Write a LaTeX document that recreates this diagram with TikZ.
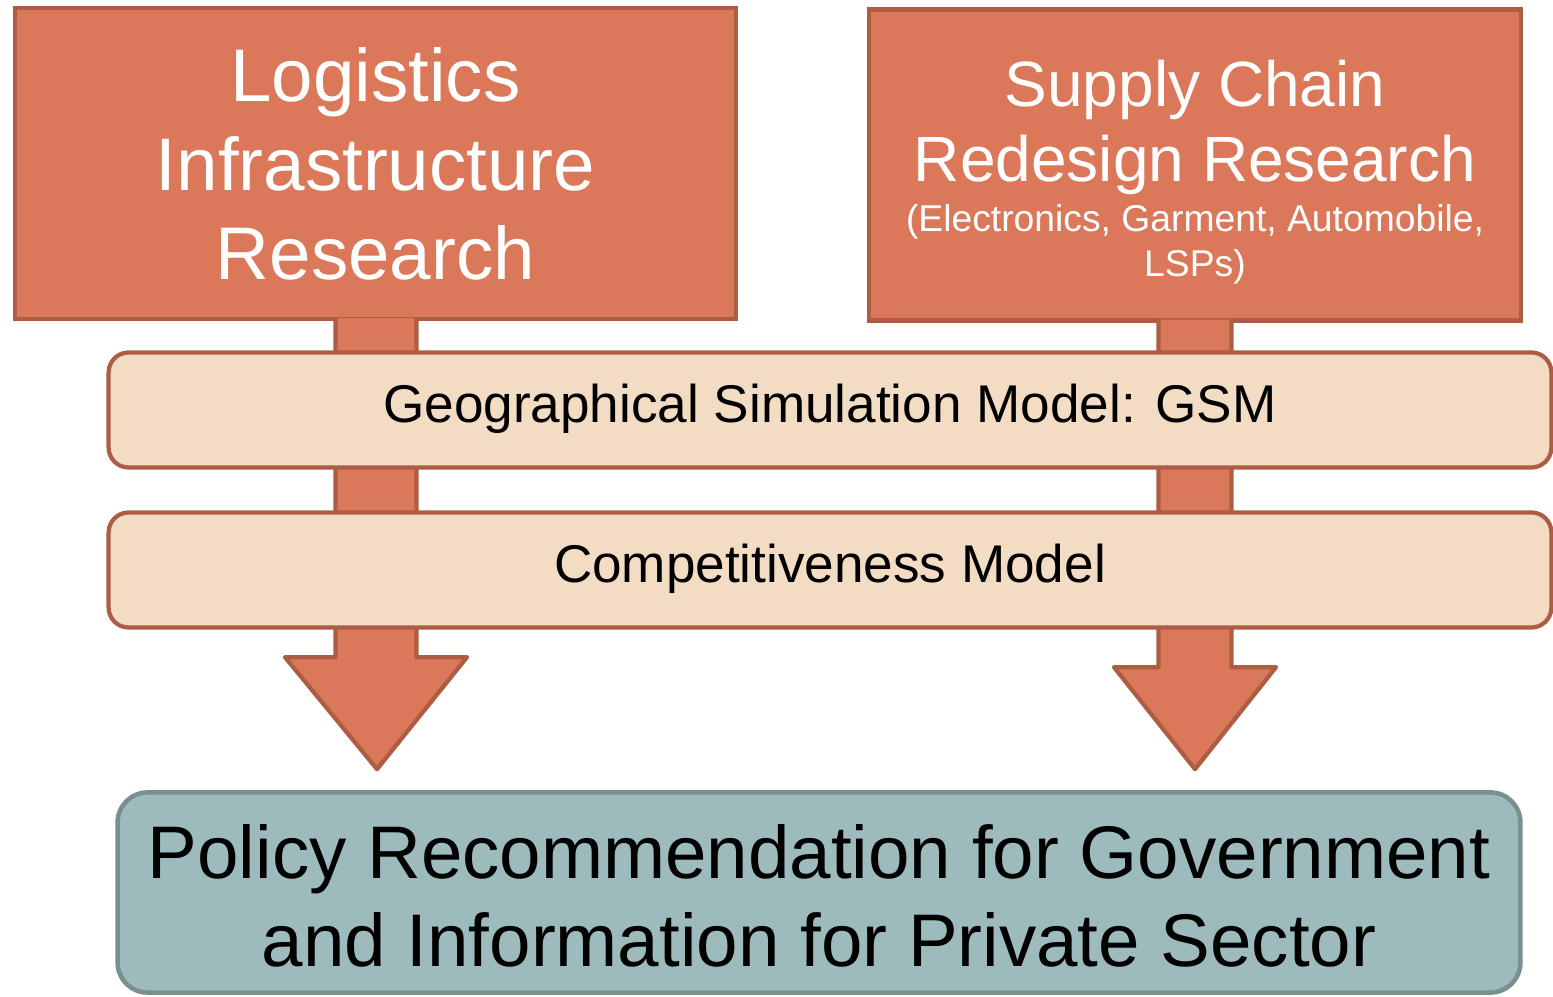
\documentclass[tikz,border=0pt]{standalone}
\usepackage{fontspec}
\setmainfont{Liberation Sans}
\usetikzlibrary{calc}
\definecolor{rustfill}{RGB}{219,120,90}
\definecolor{rustline}{RGB}{173,93,67}
\definecolor{sandfill}{RGB}{242,220,195}
\definecolor{tealfill}{RGB}{157,187,189}
\definecolor{tealline}{RGB}{122,143,144}
\newcommand{\smalltype}{\fontsize{10.6}{12.8}\selectfont}
\tikzset{
  research box/.style={
      rectangle,
      fill=rustfill,
      draw=rustline,
      line width=1.2pt,
      text=white,
      align=center,
      inner sep=0pt
      },
  model bar/.style={
      rectangle,
      rounded corners=0.2cm,
      fill=sandfill,
      draw=rustline,
      line width=1.2pt,
      minimum width=14.42cm,
      minimum height=1.15cm,
      text height=0.716em,
      text depth=0pt,
      font=\fontsize{15.1}{17}\selectfont
      },
  big arrow/.style={
      fill=rustfill,
      draw=rustline,
      line width=1.2pt,
      line join=round
      }
}
\begin{document}
\begin{tikzpicture}[x=0.01cm,y=-0.01cm]
\useasboundingbox (0,0) rectangle (1553,997);
\node [research box, minimum width=7.21cm, minimum height=3.11cm,
       font=\fontsize{21.2}{25.3}\selectfont] (logi) at (375.5,163.5)
      {Logistics\\Infrastructure\\Research};
\node [research box, minimum width=6.52cm, minimum height=3.11cm,
       font=\fontsize{18.2}{21.3}\selectfont] (scr) at (1195,165)
      {\rule{0pt}{17.3pt}Supply Chain\\Redesign Research\\[-7.3pt]
       \smalltype (Electronics, Garment, Automobile,\\[-8.5pt]\smalltype LSPs)};
% arrows go under the model bars
\path [big arrow] ($(logi.south)+(-40,-3)$) -- ($(logi.south)+(-40,336)$)
      -- ($(logi.south)+(-90.5,336)$) -- ($(logi.south)+(1.5,448)$)
      -- ($(logi.south)+(91.5,336)$) -- ($(logi.south)+(41,336)$)
      -- ($(logi.south)+(41,-3)$);
\path [big arrow] ($(scr.south)+(-36.5,-3)$) -- ($(scr.south)+(-36.5,344.5)$)
      -- ($(scr.south)+(-81,344.5)$) -- ($(scr.south)+(0,446.5)$)
      -- ($(scr.south)+(81,344.5)$) -- ($(scr.south)+(36.5,344.5)$)
      -- ($(scr.south)+(36.5,-3)$);
\node [model bar] (gsm) at (830,410) {Geographical Simulation Model: GSM};
\node [model bar] (comp) at (830,570) {Competitiveness Model};
\node [rectangle, rounded corners=0.3cm, fill=tealfill, draw=tealline,
       line width=1.3pt, minimum width=14.02cm, minimum height=2cm,
       align=center, font=\fontsize{21.2}{25}\selectfont] (policy) at (819,892.5)
      {\rule{0pt}{17.5pt}Policy Recommendation for Government\\and Information for Private Sector};
\end{tikzpicture}
\end{document}
